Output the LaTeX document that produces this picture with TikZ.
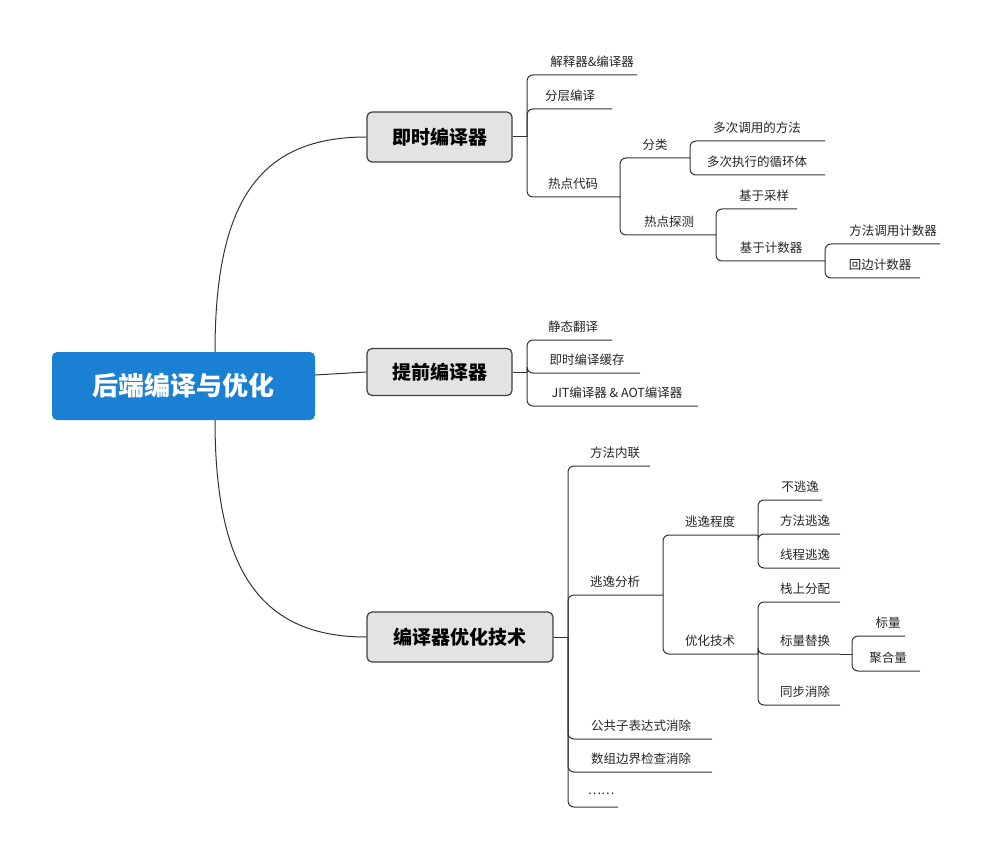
\documentclass[tikz,border=0pt]{standalone}
\usepackage{fontspec}
\setmainfont{Noto Sans CJK SC}
\definecolor{rootblue}{HTML}{1A80D4}
\begin{document}
\begin{tikzpicture}[x=1pt,y=-1pt,
  ln/.style={draw=black!80,line width=1pt},
  lf/.style={font=\fontsize{12.5}{14}\selectfont,inner sep=0pt,text=black!85},
  l1/.style={draw=black!75,line width=1.2pt,fill=black!11,rounded corners=5pt,font=\fontsize{19}{22}\bfseries\selectfont,inner sep=0pt}]
\useasboundingbox[fill=white] (0,0) rectangle (1000,858);
\newcommand\leaf[7]{% name, tx, ty, text, bx, py, ux ; underline y = ty+13
  \node[lf] (#1) at (#2,#3) {#4};
  \draw[ln,rounded corners=6pt] (#5,#6) |- (#7,#3+13);}
% root
\node[fill=rootblue,rounded corners=5pt,minimum width=263pt,minimum height=68pt,text=white,font=\fontsize{26}{30}\bfseries\selectfont] (root) at (183.5,386) {后端编译与优化};
\node[l1,minimum width=145pt,minimum height=50pt] (a) at (439.5,137) {即时编译器};
\node[l1,minimum width=145pt,minimum height=47pt] (b) at (439.5,372) {提前编译器};
\node[l1,minimum width=186pt,minimum height=50pt] (c) at (460,637) {编译器优化技术};
\draw[ln] (215,352) .. controls (215,200) and (260,137) .. (a.west);
\draw[ln] (315,375) -- (b.west);
\draw[ln] (215,420) .. controls (215,570) and (260,637) .. (c.west);
\draw[ln] (a.east) -- (527,137);
\draw[ln] (b.east) -- (527,372);
\draw[ln] (c.east) -- (568,637);
% A
\leaf{a1}{592}{62}{解释器\&编译器}{527}{137}{637}
\leaf{a2}{570}{96}{分层编译}{527}{137}{612}
\leaf{a3}{573}{184}{热点代码}{527}{137}{620}
\leaf{a31}{655}{145}{分类}{620}{197}{690}
\leaf{a32}{669}{222}{热点探测}{620}{197}{716}
\leaf{a311}{757}{128}{多次调用的方法}{690}{158}{825}
\leaf{a312}{757}{162}{多次执行的循环体}{690}{158}{825}
\leaf{a321}{764}{196}{基于采样}{716}{235}{797}
\leaf{a322}{771}{248}{基于计数器}{716}{235}{825}
\leaf{a3221}{893}{231}{方法调用计数器}{825}{261}{940}
\leaf{a3222}{880}{265}{回边计数器}{825}{261}{920}
% B
\leaf{b1}{573}{327}{静态翻译}{527}{372}{612}
\leaf{b2}{587}{360}{即时编译缓存}{527}{372}{640}
\leaf{b3}{617}{393}{JIT编译器 \& AOT编译器}{527}{372}{698}
% C
\leaf{c1}{615}{453}{方法内联}{568}{637}{650}
\leaf{c2}{615}{582}{逃逸分析}{568}{637}{663}
\leaf{c3}{641}{726}{公共子表达式消除}{568}{637}{712}
\leaf{c4}{641}{759}{数组边界检查消除}{568}{637}{712}
\leaf{c5}{601}{794}{……}{568}{637}{618}
\leaf{c21}{710}{522}{逃逸程度}{663}{595}{758}
\leaf{c22}{710}{641}{优化技术}{663}{595}{758}
\leaf{c211}{800}{487}{不逃逸}{758}{535}{822}
\leaf{c212}{805}{521}{方法逃逸}{758}{535}{840}
\leaf{c213}{805}{555}{线程逃逸}{758}{535}{840}
\leaf{c221}{805}{589}{栈上分配}{758}{654}{840}
\leaf{c222}{805}{641}{标量替换}{758}{654}{840}
\leaf{c223}{805}{692}{同步消除}{758}{654}{840}
\leaf{c2221}{888}{623}{标量}{852}{654}{905}
\leaf{c2222}{888}{658}{聚合量}{852}{654}{920}
\draw[ln] (840,654) -- (852,654);
\end{tikzpicture}
\end{document}
